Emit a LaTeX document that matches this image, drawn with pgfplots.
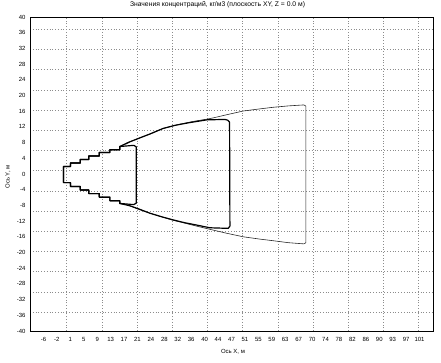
\documentclass[border=0pt]{standalone}
\usepackage{fontspec}
\setmainfont{Liberation Sans}
\usepackage{pgfplots}
\pgfplotsset{compat=1.18}
\begin{document}
\begin{tikzpicture}[font=\fontsize{6}{7}\selectfont]
\begin{axis}[
  scale only axis, width=403bp, height=314bp,
  xmin=-10.4, xmax=104.1, ymin=-40, ymax=40,
  xtick={-6.583,-2.767,1.05,4.867,8.683,12.5,16.317,20.133,23.95,27.767,31.583,35.4,39.217,43.033,46.85,50.667,54.483,58.3,62.117,65.933,69.75,73.567,77.383,81.2,85.017,88.833,92.65,96.467,100.283},
  xticklabels={-6,-2,1,5,9,13,17,21,24,28,32,36,40,44,47,51,55,59,63,67,70,74,78,82,86,90,93,97,101},
  ytick={-40,-36,...,40},
  /pgf/number format/assume math mode=true,
  major tick length=0pt, minor tick length=0pt,
  minor xtick={0,10,...,100},
  minor ytick={36.87,31.72,26.57,21.43,16.28,11.13,5.99,0.84,-4.31,-9.45,-14.6,-19.75,-24.9,-30.04,-35.19},
  xminorgrids=true, yminorgrids=true,
  minor grid style={black!45, line width=0.5pt, dash pattern=on 0.8pt off 2pt},
  axis line style={line width=0.9pt},
  tick label style={font=\fontsize{6}{7}\selectfont},
  xticklabel style={yshift=-3bp},
  yticklabel style={xshift=-1bp},
]
% outer thin contour
\addplot[black!85, line width=0.6pt, line join=round] coordinates {
(-0.9,-2.2) (-0.9,1.9) (1.1,1.9) (1.1,2.8) (3.9,2.8) (3.9,3.7) (6.3,3.7) (6.3,4.6) (9.3,4.6) (9.3,5.5) (12.3,5.5) (12.3,6.2) (15.1,6.2) (15.1,7.0)
(17,7.9) (20.8,9.2) (23.7,10.2) (27.4,11.6) (32.2,12.7) (36,13.4) (40,14.0) (41.7,14.3) (45,15.0) (50.2,16.05) (55,16.6) (58.7,17.0) (63,17.35) (67.4,17.6) (68.0,17.3)
(68.0,-17.5) (67.4,-17.8) (63,-17.5) (58.7,-17.0) (55,-16.6) (50.2,-16.0) (45,-15.0) (41.7,-14.3) (37,-13.3) (32.2,-12.2) (30.3,-11.8) (23.7,-10.0) (20.8,-9.1) (17,-7.8) (15.1,-7.5)
(15.1,-6.8) (12.3,-6.8) (12.3,-5.9) (9.3,-5.9) (9.3,-5.0) (6.3,-5.0) (6.3,-4.1) (3.9,-4.1) (3.9,-3.2) (1.1,-3.2) (1.1,-2.2) (-0.9,-2.2)
};
% medium thick contour
\addplot[black, line width=1.2pt, line join=round] coordinates {
(-0.9,-2.2) (-0.9,1.9) (1.1,1.9) (1.1,2.8) (3.9,2.8) (3.9,3.7) (6.3,3.7) (6.3,4.6) (9.3,4.6) (9.3,5.5) (12.3,5.5) (12.3,6.2) (15.1,6.2) (15.1,7.0)
(16.6,7.6) (18.0,8.2) (20.8,9.2) (23.7,10.2) (27.4,11.6) (30.8,12.4) (35.0,13.1) (39.9,13.8) (45.0,13.9) (45.8,13.7) (46.3,13.2)
(46.4,-13.3) (45.9,-13.85) (40.7,-13.7) (36.9,-13.0) (33.5,-12.4) (30.3,-11.7) (27,-10.9) (23.7,-10.0) (20.8,-9.0) (18.0,-8.1) (15.1,-7.5)
(15.1,-6.8) (12.3,-6.8) (12.3,-5.9) (9.3,-5.9) (9.3,-5.0) (6.3,-5.0) (6.3,-4.1) (3.9,-4.1) (3.9,-3.2) (1.1,-3.2) (1.1,-2.2) (-0.9,-2.2)
};
% small thick contour
\addplot[black, line width=1.2pt, line join=round] coordinates {
(-0.9,-2.2) (-0.9,1.9) (1.1,1.9) (1.1,2.8) (3.9,2.8) (3.9,3.7) (6.3,3.7) (6.3,4.6) (9.3,4.6) (9.3,5.5) (12.3,5.5) (12.3,6.2) (15.1,6.2) (15.1,7.0)
(19.1,7.3) (19.8,6.9) (19.8,-7.4) (19.1,-7.8) (15.1,-7.5)
(15.1,-6.8) (12.3,-6.8) (12.3,-5.9) (9.3,-5.9) (9.3,-5.0) (6.3,-5.0) (6.3,-4.1) (3.9,-4.1) (3.9,-3.2) (1.1,-3.2) (1.1,-2.2) (-0.9,-2.2)
};
\end{axis}
\node[font=\fontsize{6.8}{8}\selectfont] at ([xshift=-14bp,yshift=12bp]current axis.north) {Значения концентраций, кг/м3 (плоскость XY, Z = 0.0 м)};
\node at ([xshift=1.5bp,yshift=-21bp]current axis.south) {Ось X, м};
\node[rotate=90] at ([xshift=-22bp,yshift=-3bp]current axis.west) {Ось Y, м};
\pgfresetboundingbox
\useasboundingbox ([shift={(-30bp,-32bp)}]current axis.south west) rectangle ([shift={(8bp,17bp)}]current axis.north east);
\end{tikzpicture}
\end{document}
